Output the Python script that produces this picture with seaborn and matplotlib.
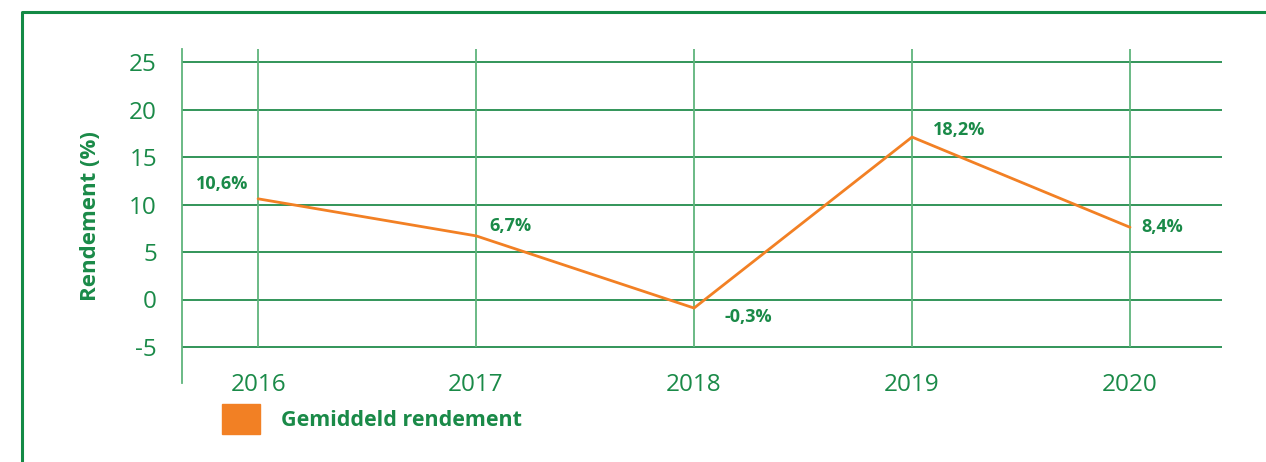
import matplotlib.pyplot as plt
import matplotlib.lines as mlines
import matplotlib.patches as mpatches
import pandas as pd
import seaborn as sns

# Data
years = [2016, 2017, 2018, 2019, 2020]
rendement = [10.6, 6.7, -0.9, 17.1, 7.6]
label_texts = ["10,6%", "6,7%", "-0,3%", "18,2%", "8,4%"]
y_ticks = [-5, 0, 5, 10, 15, 20, 25]
series_name = "Gemiddeld rendement"


def main():
    sns.set_style("white")
    plt.rcParams["font.family"] = ["Open Sans", "DejaVu Sans"]
    plt.rcParams["axes.unicode_minus"] = False

    # Colours
    green_text = "#1a8a48"
    green_grid = "#228c4c"
    green_light = "#5fb47c"
    orange = "#f28024"

    df = pd.DataFrame({"Jaar": years, "Rendement": rendement})

    W, H = 1266, 462
    fig = plt.figure(figsize=(W / 100, H / 100), dpi=100)
    fig.patch.set_facecolor("white")

    # Outer frame (top and left only)
    fx = 22 / W
    fy = 1 - 12 / H
    fig.add_artist(mlines.Line2D([fx, fx, 1.0], [0.0, fy, fy],
                                 color="#138a45", lw=2.2,
                                 transform=fig.transFigure))

    ax = fig.add_axes([182 / W, (H - 383) / H, (1222 - 182) / W, (383 - 49) / H])

    # Gridlines
    ax.set_ylim(-8.79, 26.37)
    ax.set_xlim(2015.651, 2020.422)
    ax.set_yticks(y_ticks)
    ax.yaxis.grid(True, color=green_grid, lw=1.3)
    ax.vlines(years, -5, 26.37, color=green_light, lw=1.3, zorder=1)
    ax.set_axisbelow(True)

    sns.lineplot(data=df, x="Jaar", y="Rendement", color=orange, lw=2.0,
                 ax=ax, legend=False, zorder=3)

    # Spines
    for side in ["top", "right", "bottom"]:
        ax.spines[side].set_visible(False)
    ax.spines["left"].set_color(green_light)
    ax.spines["left"].set_linewidth(1.3)

    # Ticks
    ax.set_xticks([])
    ax.tick_params(axis="y", length=0, pad=18, labelsize=17.5,
                   labelcolor=green_text)
    for yr in years:
        ax.text(yr, -0.024, str(yr), transform=ax.get_xaxis_transform(),
                ha="center", va="baseline", fontsize=17.5, color=green_text)

    ax.set_xlabel("")
    ax.set_ylabel("Rendement (%)", color=green_text, fontsize=16,
                  fontweight="bold", labelpad=20)

    # Point labels
    offsets = [(-36, 15, "center"), (13, 10, "left"), (30, -9, "left"),
               (21, 7, "left"), (11, 0, "left")]
    for yr, val, txt, (dx, dy, ha) in zip(years, rendement, label_texts, offsets):
        ax.annotate(txt, (yr, val), xytext=(dx, dy), textcoords="offset pixels",
                    ha=ha, va="center", fontsize=13, fontweight="bold",
                    color=green_text)

    # Legend
    handle = mpatches.Patch(color=orange, label=series_name)
    leg = fig.legend(handles=[handle], loc="upper left",
                     bbox_to_anchor=(222 / W, 1 - 404 / H),
                     frameon=False, borderpad=0, borderaxespad=0,
                     handlelength=1.77, handleheight=1.77, handletextpad=0.95,
                     prop={"size": 15.5, "weight": "bold"})
    for t in leg.get_texts():
        t.set_color(green_text)

    fig.savefig("out.png", dpi=100, facecolor="white")


if __name__ == "__main__":
    main()
